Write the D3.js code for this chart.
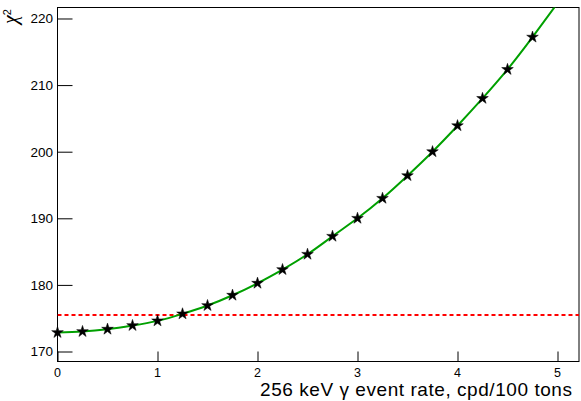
<!DOCTYPE html>
<html>
<head>
<meta charset="utf-8">
<script src="https://cdn.jsdelivr.net/npm/d3@7"></script>
<style>
  body { margin: 0; background: #fff; }
  svg { display: block; font-family: "Liberation Sans", Arial, sans-serif; }
</style>
</head>
<body>
<div id="chart"></div>
<script>
// scan points (rate in cpd/100 tons, chi2)
const rate = [0, 0.25, 0.5, 0.75, 1, 1.25, 1.5, 1.75, 2, 2.25, 2.5, 2.75, 3, 3.25, 3.5, 3.75, 4, 4.25, 4.5, 4.75];
const chi2 = [172.85, 173.0, 173.35, 173.9, 174.6, 175.65, 176.9, 178.45, 180.25, 182.3, 184.6, 187.3, 190.0, 193.0, 196.4, 200.0, 203.9, 208.0, 212.35, 217.2];
// fitted curve (goes past the top frame)
const fitRate = [0, 0.25, 0.5, 0.75, 1, 1.25, 1.5, 1.75, 2, 2.25, 2.5, 2.75, 3, 3.25, 3.5, 3.75, 4, 4.25, 4.5, 4.75, 5.0];
const fitChi2 = [172.85, 173.0, 173.35, 173.9, 174.6, 175.65, 176.9, 178.45, 180.25, 182.3, 184.6, 187.3, 190.0, 193.0, 196.4, 200.0, 203.9, 208.0, 212.35, 217.2, 222.3];
const limit = 175.5; // red dashed line
const xTicks = [0, 1, 2, 3, 4, 5];
const yTicks = [170, 180, 190, 200, 210, 220];

const width = 581;
const height = 401;
const frame = { left: 57.5, top: 7.5, right: 579, bottom: 361.5 };

const svg = d3.select("#chart")
  .append("svg")
  .attr("width", width)
  .attr("height", height)
  .attr("viewBox", [0, 0, width, height]);

const x = d3.scaleLinear().domain([0, 5.215]).range([frame.left, frame.right]);
const y = d3.scaleLinear().domain([168.5, 221.65]).range([frame.bottom, frame.top]);

svg.append("clipPath").attr("id", "clip")
  .append("rect")
  .attr("x", frame.left).attr("y", frame.top)
  .attr("width", frame.right - frame.left).attr("height", frame.bottom - frame.top);

// frame
svg.append("rect")
  .attr("x", frame.left).attr("y", frame.top)
  .attr("width", frame.right - frame.left).attr("height", frame.bottom - frame.top)
  .attr("fill", "none").attr("stroke", "#000").attr("stroke-width", 1);

// x axis: ticks pointing up
const xAxis = svg.append("g").attr("transform", `translate(0,${frame.bottom})`);
xAxis.call(d3.axisTop(x).tickValues(d3.range(0, 5.21, 0.2)).tickSize(5).tickFormat(""));
xAxis.call(d3.axisTop(x).tickValues(xTicks).tickSize(10).tickFormat(""));
xAxis.selectAll(".domain").remove();
xAxis.selectAll("line").attr("stroke", "#000");
xAxis.selectAll(".xlab").data(xTicks).enter().append("text")
  .attr("x", d => x(d)).attr("y", 15.5)
  .attr("text-anchor", "middle").attr("fill", "#000")
  .attr("font-size", 12.5).text(d => d);

// y axis: ticks pointing right
const yAxis = svg.append("g").attr("transform", `translate(${frame.left},0)`);
yAxis.call(d3.axisRight(y).tickValues(d3.range(170, 221, 2)).tickSize(7.5).tickFormat(""));
yAxis.call(d3.axisRight(y).tickValues(yTicks).tickSize(15).tickFormat(""));
yAxis.selectAll(".domain").remove();
yAxis.selectAll("line").attr("stroke", "#000");
yAxis.selectAll(".ylab").data(yTicks).enter().append("text")
  .attr("x", -4.5).attr("y", d => y(d)).attr("dy", "0.36em")
  .attr("text-anchor", "end").attr("fill", "#000")
  .attr("font-size", 13.5).text(d => d);

// axis titles
svg.append("text")
  .attr("x", 260).attr("y", 396)
  .attr("font-size", 19)
  .attr("textLength", 312).attr("lengthAdjust", "spacing")
  .text("256 keV γ event rate, cpd/100 tons");

const yt = svg.append("text")
  .attr("transform", "translate(17,9) rotate(-90)")
  .attr("text-anchor", "end");
yt.append("tspan").attr("font-family", "Liberation Serif").attr("font-style", "italic")
  .attr("font-size", 20).text("χ");
yt.append("tspan").attr("font-size", 11).attr("dy", -6).text("2");

const plot = svg.append("g").attr("clip-path", "url(#clip)");

// red dashed line
plot.append("line")
  .attr("x1", frame.left).attr("x2", frame.right)
  .attr("y1", y(limit)).attr("y2", y(limit))
  .attr("stroke", "#ff0000").attr("stroke-width", 2)
  .attr("stroke-dasharray", "4,3");

// green fit curve
const line = d3.line().x((d, i) => x(fitRate[i])).y(d => y(d)).curve(d3.curveNatural);
plot.append("path")
  .attr("d", line(fitChi2))
  .attr("fill", "none")
  .attr("stroke", "#00a000")
  .attr("stroke-width", 2);

// stars
const star = d3.symbol().type(d3.symbolStar).size(42);
svg.selectAll(".pt").data(chi2).enter().append("path")
  .attr("transform", (d, i) => `translate(${x(rate[i])},${y(d)})`)
  .attr("d", star)
  .attr("fill", "#000")
  .attr("stroke", "#000").attr("stroke-width", 0.5);
</script>
</body>
</html>
